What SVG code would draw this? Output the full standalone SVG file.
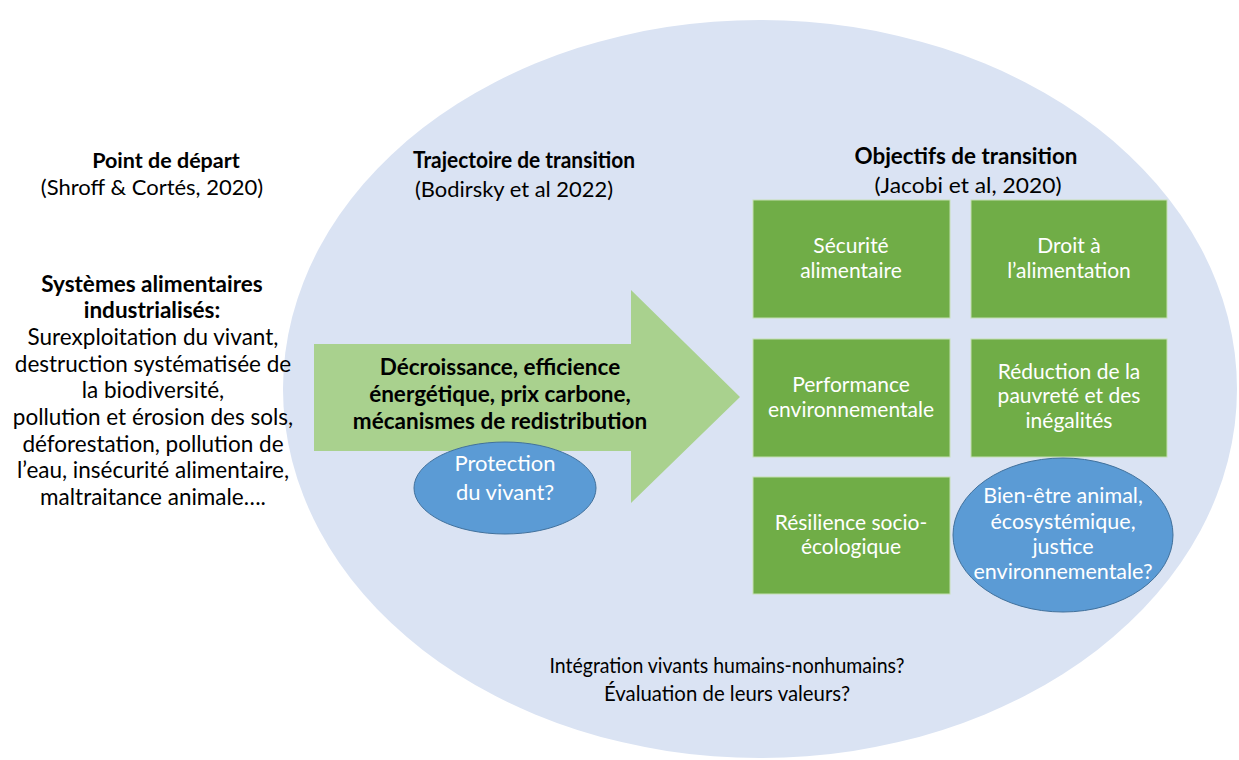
<svg xmlns="http://www.w3.org/2000/svg" width="1239" height="760" viewBox="0 0 1239 760">
<style>
text{font-family:Lato,"Open Sans","Liberation Sans",sans-serif;text-anchor:middle}
.b{font-weight:bold;fill:#000}
.n{fill:#000}
.w{fill:#fff}
.box{fill:#70ad47;stroke:#c5e0b4;stroke-width:1}
.ov{fill:#5b9bd5;stroke:#41719c;stroke-width:1}
</style>
<rect width="1239" height="760" fill="#fff"/>
<g id="big-ellipse"><ellipse cx="760" cy="389" rx="477" ry="369" fill="#dae3f3"/></g>
<g id="left-text" font-size="22.5">
<text class="b" x="166" y="168" font-size="21.5">Point de départ</text>
<text class="n" x="152" y="195" font-size="22">(Shroff &amp; Cortés, 2020)</text>
<text class="b" x="152" y="292">Systèmes alimentaires</text>
<text class="b" x="152" y="318">industrialisés:</text>
<text class="n" x="153" y="345">Surexploitation du vivant,</text>
<text class="n" x="153" y="372">destruction systématisée de</text>
<text class="n" x="153" y="398">la biodiversité,</text>
<text class="n" x="153" y="425">pollution et érosion des sols,</text>
<text class="n" x="153" y="452">déforestation, pollution de</text>
<text class="n" x="153" y="478">l’eau, insécurité alimentaire,</text>
<text class="n" x="153" y="505">maltraitance animale….</text>
</g>
<g id="headers" font-size="22">
<text class="b" x="524" y="168" textLength="222" lengthAdjust="spacingAndGlyphs">Trajectoire de transition</text>
<text class="n" x="514" y="197" textLength="198" lengthAdjust="spacingAndGlyphs">(Bodirsky et al 2022)</text>
<text class="b" x="966" y="164" textLength="223" lengthAdjust="spacingAndGlyphs">Objectifs de transition</text>
<text class="n" x="968" y="193" textLength="187" lengthAdjust="spacingAndGlyphs">(Jacobi et al, 2020)</text>
</g>
<g id="arrow">
<path d="M314,344 H631 V290 L740,397 L631,503 V451 H314 Z" fill="#a9d18e"/>
<text class="b" x="500" y="375" font-size="22.5">Décroissance, efficience</text>
<text class="b" x="500" y="402" font-size="22.5">énergétique, prix carbone,</text>
<text class="b" x="500" y="429" font-size="22.5">mécanismes de redistribution</text>
</g>
<g id="protection">
<ellipse class="ov" cx="505" cy="488" rx="91" ry="46"/>
<text class="w" x="505" y="471" font-size="22">Protection</text>
<text class="w" x="505" y="500" font-size="22">du vivant?</text>
</g>
<g id="securite">
<rect class="box" x="753" y="200" width="197" height="118"/>
<text class="w" x="851" y="253" font-size="21">Sécurité</text>
<text class="w" x="851" y="278" font-size="21">alimentaire</text>
</g>
<g id="droit">
<rect class="box" x="971" y="200" width="196" height="118"/>
<text class="w" x="1069" y="253" font-size="21">Droit à</text>
<text class="w" x="1069" y="278" font-size="21">l’alimentation</text>
</g>
<g id="performance">
<rect class="box" x="753" y="339" width="197" height="118"/>
<text class="w" x="851" y="392" font-size="21">Performance</text>
<text class="w" x="851" y="417" font-size="21">environnementale</text>
</g>
<g id="reduction">
<rect class="box" x="971" y="339" width="196" height="118"/>
<text class="w" x="1069" y="379" font-size="21">Réduction de la</text>
<text class="w" x="1069" y="403" font-size="21">pauvreté et des</text>
<text class="w" x="1069" y="428" font-size="21">inégalités</text>
</g>
<g id="resilience">
<rect class="box" x="753" y="477" width="197" height="117"/>
<text class="w" x="851" y="530" font-size="21">Résilience socio-</text>
<text class="w" x="851" y="554" font-size="21">écologique</text>
</g>
<g id="bienetre">
<ellipse class="ov" cx="1063" cy="535" rx="110" ry="77"/>
<text class="w" x="1063" y="503" font-size="21.5">Bien-être animal,</text>
<text class="w" x="1063" y="529" font-size="21.5">écosystémique,</text>
<text class="w" x="1063" y="554" font-size="21.5">justice</text>
<text class="w" x="1063" y="579" font-size="21.5">environnementale?</text>
</g>
<g id="bottom-text" font-size="22">
<text class="n" x="727" y="673" textLength="355" lengthAdjust="spacingAndGlyphs">Intégration vivants humains-nonhumains?</text>
<text class="n" x="727" y="701" textLength="246" lengthAdjust="spacingAndGlyphs">Évaluation de leurs valeurs?</text>
</g>
<g id="connectors"></g>
</svg>
